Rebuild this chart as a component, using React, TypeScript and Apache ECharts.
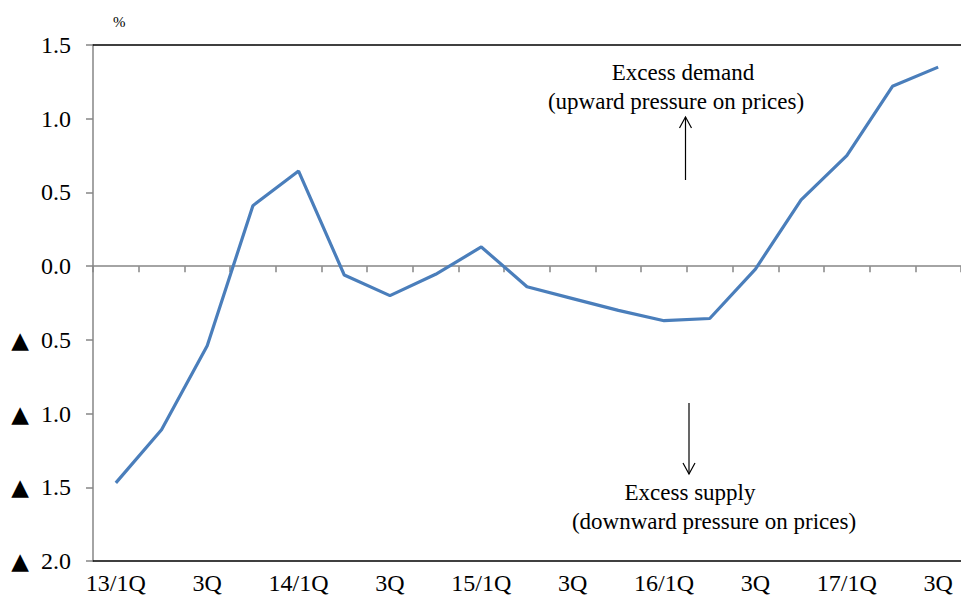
import React, { useEffect, useRef } from "react";
import * as echarts from "echarts";

const categories = [
  "13/1Q", "2Q", "3Q", "4Q",
  "14/1Q", "2Q", "3Q", "4Q",
  "15/1Q", "2Q", "3Q", "4Q",
  "16/1Q", "2Q", "3Q", "4Q",
  "17/1Q", "2Q", "3Q",
];
const values = [
  -1.47, -1.11, -0.54, 0.41,
  0.645, -0.06, -0.2, -0.055,
  0.13, -0.14, -0.22, -0.3,
  -0.37, -0.355, -0.02, 0.45,
  0.75, 1.22, 1.35,
];
const yMin = -2;
const yMax = 1.5;
const yStep = 0.5;

const SERIF = "Liberation Serif";

export default function App() {
  const ref = useRef<HTMLDivElement>(null);
  useEffect(() => {
    if (!ref.current) return;
    const chart = echarts.init(ref.current, undefined, { renderer: "svg" });
    const gray = "#868686";
    chart.setOption({
      animation: false,
      backgroundColor: "#ffffff",
      grid: { left: 93, top: 45, width: 874, height: 516, containLabel: false },
      xAxis: [
        {
          type: "category",
          data: categories,
          position: "bottom",
          boundaryGap: true,
          axisLine: { show: true, onZero: false, lineStyle: { color: "#000", width: 1.5 } },
          axisTick: { show: false },
          axisLabel: {
            interval: 1,
            fontSize: 24,
            color: "#000",
            fontFamily: SERIF,
            margin: 10,
          },
          splitLine: { show: false },
        },
        {
          type: "category",
          data: categories,
          position: "top",
          boundaryGap: true,
          axisLine: { show: true, onZero: false, lineStyle: { color: "#000", width: 1.5 } },
          axisTick: { show: false },
          axisLabel: { show: false },
          splitLine: { show: false },
        },
        {
          type: "category",
          data: categories,
          position: "bottom",
          boundaryGap: true,
          axisLine: { show: true, onZero: true, onZeroAxisIndex: 0, lineStyle: { color: gray, width: 1.5 } },
          axisTick: { show: true, interval: 0, inside: false, length: 6, lineStyle: { color: gray, width: 1.5 } },
          axisLabel: { show: false },
          splitLine: { show: false },
        },
      ],
      yAxis: {
        type: "value",
        min: yMin,
        max: yMax,
        interval: yStep,
        axisLine: { show: true, lineStyle: { color: gray, width: 1.5 } },
        axisTick: { show: true, length: 7, lineStyle: { color: gray, width: 1.5 } },
        splitLine: { show: false },
        axisLabel: {
          fontSize: 24,
          color: "#000",
          fontFamily: SERIF,
          margin: 22,
          formatter: (v: number) =>
            v < 0
              ? "{t|▲}{n|  " + Math.abs(v).toFixed(1) + "}"
              : "{n|" + v.toFixed(1) + "}",
          rich: {
            t: { fontSize: 23, fontFamily: "DejaVu Sans", color: "#000" },
            n: { fontSize: 24, fontFamily: SERIF, color: "#000" },
          },
        },
      },
      series: [
        {
          type: "line",
          xAxisIndex: 0,
          data: values,
          symbol: "none",
          showSymbol: false,
          lineStyle: { color: "#4a7ebb", width: 3.2 },
          z: 5,
        },
      ],
      graphic: [
        {
          type: "text",
          left: 113,
          top: 14,
          style: { text: "%", fontSize: 15, fill: "#000", fontFamily: SERIF },
        },
        {
          type: "text",
          x: 683,
          y: 72,
          style: {
            text: "Excess demand",
            fontSize: 23,
            fill: "#000",
            fontFamily: SERIF,
            align: "center",
            verticalAlign: "middle",
          },
        },
        {
          type: "text",
          x: 676,
          y: 101,
          style: {
            text: "(upward pressure on prices)",
            fontSize: 23,
            fill: "#000",
            fontFamily: SERIF,
            align: "center",
            verticalAlign: "middle",
          },
        },
        {
          type: "line",
          shape: { x1: 685.5, y1: 180, x2: 685.5, y2: 117 },
          style: { stroke: "#000", lineWidth: 1.2 },
        },
        {
          type: "polyline",
          shape: { points: [[679.5, 128], [685.5, 117], [691.5, 128]] },
          style: { stroke: "#000", lineWidth: 1.2, fill: "none" },
        },
        {
          type: "line",
          shape: { x1: 689, y1: 403, x2: 689, y2: 474 },
          style: { stroke: "#000", lineWidth: 1.2 },
        },
        {
          type: "polyline",
          shape: { points: [[683, 463], [689, 474], [695, 463]] },
          style: { stroke: "#000", lineWidth: 1.2, fill: "none" },
        },
        {
          type: "text",
          x: 690,
          y: 492,
          style: {
            text: "Excess supply",
            fontSize: 23,
            fill: "#000",
            fontFamily: SERIF,
            align: "center",
            verticalAlign: "middle",
          },
        },
        {
          type: "text",
          x: 714,
          y: 521,
          style: {
            text: "(downward pressure on prices)",
            fontSize: 23,
            fill: "#000",
            fontFamily: SERIF,
            align: "center",
            verticalAlign: "middle",
          },
        },
      ],
    });
    return () => chart.dispose();
  }, []);
  return (
    <div
      ref={ref}
      style={{ position: "fixed", left: 0, top: 0, width: 961, height: 608 }}
    />
  );
}
